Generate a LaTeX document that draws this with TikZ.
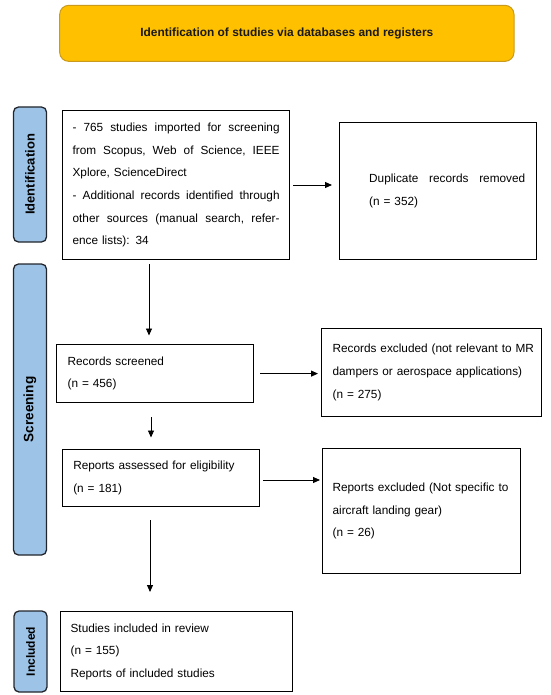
\documentclass[tikz,border=0pt]{standalone}
\usepackage{fontspec}
\setmainfont{Liberation Sans}
\usetikzlibrary{arrows.meta}
\definecolor{bannerfill}{HTML}{FFC000}
\definecolor{bannerdraw}{HTML}{C99A1C}
\definecolor{labelfill}{HTML}{9DC3E6}
\definecolor{labeldraw}{HTML}{22262C}
\newcommand{\jline}[2]{\leavevmode\hbox to #1{#2}}
\begin{document}
\begin{tikzpicture}[x=1pt,y=-1pt,
  banner/.style={draw=bannerdraw, fill=bannerfill, line width=1pt, rounded corners=9pt,
    font=\fontsize{11.9}{14}\selectfont\bfseries, text=black!90},
  phase/.style={draw=labeldraw, fill=labelfill, line width=1.3pt, rounded corners=5pt,
    rotate=90, minimum height=33pt, inner sep=0pt, font=\fontsize{13}{15}\selectfont\bfseries},
  box/.style={draw=black, line width=1.2pt, align=left, inner ysep=0pt, anchor=north west,
    font=\fontsize{11.8}{22.6}\selectfont},
  arr/.style={line width=0.9pt, -{Triangle[length=7pt,width=6pt]}}
]
\useasboundingbox (0,0) rectangle (550,695);

% banner
\node[banner, minimum width=454.3pt, minimum height=56pt] (ban) at (286.85,33.35)
  {Identification of studies via databases and registers};

% phase labels
\node[phase, minimum width=135pt] (pid) at (30,174.5) {Identification};
\node[phase, minimum width=291pt, font=\fontsize{13.6}{15}\selectfont\bfseries] (psc) at (30,409.5) {Screening};
\node[phase, minimum width=81pt, font=\fontsize{12}{14}\selectfont\bfseries] (pin) at (30.5,651.5) {Included};

% boxes
\node[box, minimum width=227pt, minimum height=149pt, inner xsep=10pt, text width=207pt] (b1) at (62,110)
  {\jline{207pt}{-\hfill 765\hfill studies\hfill imported\hfill for\hfill screening}\\
   \jline{207pt}{from\hfill Scopus,\hfill Web\hfill of\hfill Science,\hfill IEEE}\\
   \mbox{Xplore, ScienceDirect}\\
   \jline{207pt}{-\hfill Additional\hfill records\hfill identified\hfill through}\\
   \jline{207pt}{other\hfill sources\hfill (manual\hfill search,\hfill refer-}\\
   \mbox{ence lists): 34}};

\node[box, minimum width=197pt, minimum height=137pt, inner xsep=11pt, text width=175pt] (dup) at (339,122)
  {\hspace*{18.6pt}\jline{156pt}{Duplicate\hfill records\hfill removed}\\
   \hspace*{18.6pt}(n = 352)};

\node[box, minimum width=197pt, minimum height=58pt, inner xsep=11pt, text width=175pt] (rs) at (56,344)
  {\mbox{Records screened}\\ \mbox{(n = 456)}};

\node[box, minimum width=219.5pt, minimum height=87.5pt, inner xsep=11pt, text width=197.5pt] (rx) at (321,328)
  {\mbox{Records excluded (not relevant to MR}\\
   \mbox{dampers or aerospace applications)}\\
   \mbox{(n = 275)}};

\node[box, minimum width=197pt, minimum height=57pt, inner xsep=10.7pt, text width=175.6pt] (ra) at (62,449)
  {\mbox{Reports assessed for eligibility}\\ \mbox{(n = 181)}};

\node[box, minimum width=197.5pt, minimum height=125pt, inner xsep=10pt, text width=177.5pt] (re) at (322,448)
  {\mbox{Reports excluded (Not specific to}\\
   \mbox{aircraft landing gear)}\\
   \mbox{(n = 26)}};

\node[box, minimum width=231.7pt, minimum height=80pt, inner xsep=10pt, text width=211.7pt] (si) at (60,611)
  {\mbox{Studies included in review}\\
   \mbox{(n = 155)}\\
   \mbox{Reports of included studies}};

% connectors
\coordinate (ax1) at (149,0);
\coordinate (ax2) at (151,0);
\coordinate (ax3) at (150,0);
\draw[arr, shorten <=3pt, shorten >=7pt] (b1.east |- 0,185) -- (dup.west |- 0,185);
\draw[arr, shorten <=6pt, shorten >=3pt] (rs.east) -- (rx.west |- rs.east);
\draw[arr, shorten <=3pt, shorten >=2pt] (ra.east |- 0,480) -- (re.west |- 0,480);
\draw[arr, shorten <=4pt, shorten >=8.5pt] (b1.south -| ax1) -- (rs.north -| ax1);
\draw[arr, shorten <=14pt, shorten >=11.5pt] (rs.south -| ax2) -- (ra.north -| ax2);
\draw[arr, shorten <=13pt, shorten >=19pt] (ra.south -| ax3) -- (si.north -| ax3);
\end{tikzpicture}
\end{document}
